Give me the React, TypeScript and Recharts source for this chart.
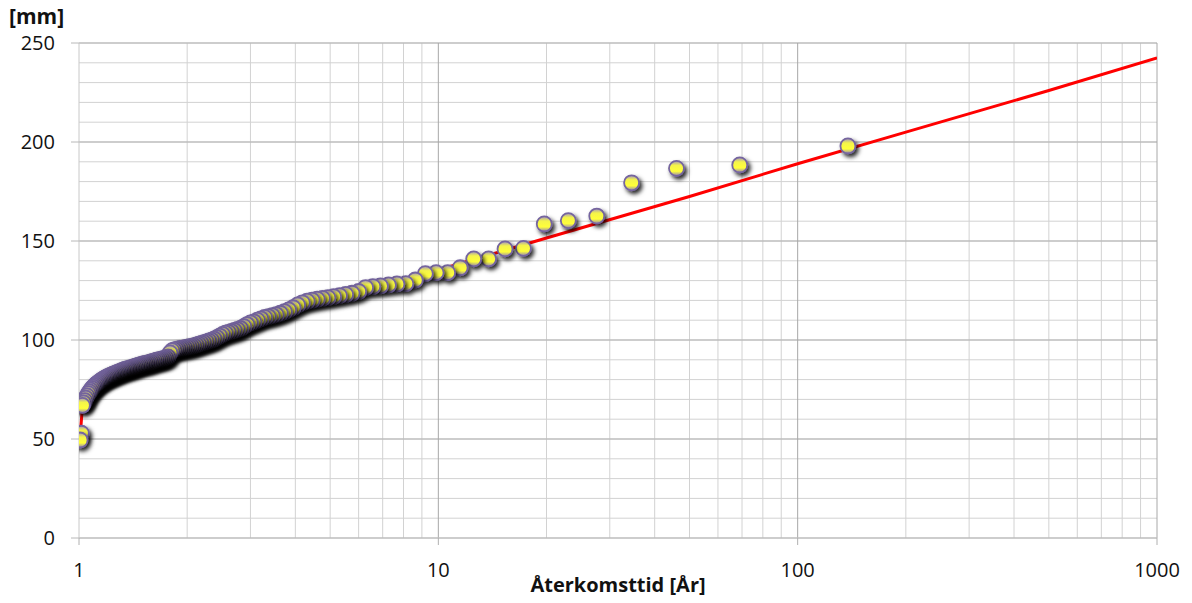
import React from 'react';
import { ScatterChart, Scatter, XAxis, YAxis, ReferenceLine } from 'recharts';

// Return periods (years) of the observed annual maxima, largest first
const returnPeriods = [
  138, 69, 46, 34.5, 27.6, 23, 19.714, 17.25, 15.333, 13.8,
  12.545, 11.5, 10.615, 9.857, 9.2, 8.625, 8.118, 7.667, 7.263, 6.9,
  6.571, 6.273, 6, 5.75, 5.52, 5.308, 5.111, 4.929, 4.759, 4.6,
  4.452, 4.313, 4.182, 4.059, 3.943, 3.833, 3.73, 3.632, 3.538, 3.45,
  3.366, 3.286, 3.209, 3.136, 3.067, 3, 2.936, 2.875, 2.816, 2.76,
  2.706, 2.654, 2.604, 2.556, 2.509, 2.464, 2.421, 2.379, 2.339, 2.3,
  2.262, 2.226, 2.19, 2.156, 2.123, 2.091, 2.06, 2.029, 2, 1.971,
  1.944, 1.917, 1.89, 1.865, 1.84, 1.816, 1.792, 1.769, 1.747, 1.725,
  1.704, 1.683, 1.663, 1.643, 1.624, 1.605, 1.586, 1.568, 1.551, 1.533,
  1.516, 1.5, 1.484, 1.468, 1.453, 1.4375, 1.423, 1.408, 1.394, 1.38,
  1.366, 1.353, 1.34, 1.327, 1.314, 1.302, 1.29, 1.278, 1.266, 1.255,
  1.243, 1.232, 1.221, 1.211, 1.2, 1.19, 1.179, 1.169, 1.16, 1.15,
  1.14, 1.131, 1.122, 1.113, 1.104, 1.095, 1.087, 1.078, 1.07, 1.062,
  1.053, 1.045, 1.038, 1.03, 1.022, 1.015, 1.007,
];

// Observed values [mm]
const observedMm = [
  198, 188.4, 186.7, 179.4, 162.6, 160.3, 158.6, 146.3, 146, 141,
  141, 136.5, 134, 134, 133.5, 130.3, 128.5, 128.3, 127.8, 127.3,
  127, 126.5, 124.5, 123.6, 123, 122.4, 121.9, 121.4, 121, 120.6,
  120.1, 119.6, 118.8, 117.7, 116.3, 115.2, 114.3, 113.5, 112.8, 112.3,
  111.8, 111.4, 110.7, 110, 109.2, 108.6, 107.8, 106.8, 105.8, 105.3,
  104.8, 104.3, 103.9, 103.5, 102.8, 102, 101.2, 100.5, 99.9, 99.5,
  99.1, 98.7, 98.3, 97.9, 97.5, 97.1, 96.8, 96.6, 96.4, 96.1,
  95.9, 95.7, 95.5, 95.3, 95, 94.6, 93.5, 91.5, 91, 90.7,
  90.4, 90.2, 90, 89.8, 89.5, 89.2, 88.9, 88.6, 88.4, 88.2,
  88, 87.8, 87.6, 87.3, 87, 86.8, 86.5, 86.2, 86, 85.7,
  85.5, 85.3, 85.1, 84.8, 84.5, 84.2, 83.9, 83.6, 83.3, 83,
  82.7, 82.4, 82.1, 81.8, 81.5, 81.1, 80.7, 80.3, 79.9, 79.5,
  79, 78.5, 78, 77.4, 76.8, 76.2, 75.5, 74.7, 73.8, 72.9,
  71.8, 70.6, 69.4, 68.2, 67, 52.9, 49.5,
];

// Fitted curve
const fitReturnPeriods = [1.007, 1.022, 1.1, 1.5, 2, 3, 5, 8, 10, 20, 50, 100, 200, 500, 1000];
const fitMm = [51, 66, 76, 87, 96, 108, 120, 130.5, 135.4, 151.5, 172.5, 189, 205, 226, 242.5];

// Axis ticks and grid lines
const xTicks = [1, 10, 100, 1000];
const yTicks = [0, 50, 100, 150, 200, 250];
const xMinorGrid = [2, 3, 4, 5, 6, 7, 8, 9, 20, 30, 40, 50, 60, 70, 80, 90, 200, 300, 400, 500, 600, 700, 800, 900];
const xMajorGrid = [10, 100, 1000];
const yMinorGrid = [10, 20, 30, 40, 60, 70, 80, 90, 110, 120, 130, 140, 160, 170, 180, 190, 210, 220, 230, 240];
const yMajorGrid = [50, 100, 150, 200, 250];

const observed = returnPeriods.map((t, i) => ({ t, v: observedMm[i] }));
const fit = fitReturnPeriods.map((t, i) => ({ t, v: fitMm[i] }));

const FONT = "'Open Sans', 'Noto Sans', sans-serif";

const Dot = (props: any) => {
  const { cx, cy } = props;
  if (cx == null || cy == null) return <g />;
  return (
    <g filter="url(#dotShadow)">
      <circle cx={cx} cy={cy} r={7.5} fill="url(#dotFill)" stroke="#75659f" strokeWidth={1.8} />
    </g>
  );
};

const NoDot = () => <g />;

export default function App() {
  return (
    <div style={{ position: 'absolute', left: 0, top: 0, width: 1192, height: 603, background: '#fff' }}>
      <svg width={0} height={0} style={{ position: 'absolute' }}>
        <defs>
          <linearGradient id="dotFill" x1="0" y1="0" x2="0" y2="1">
            <stop offset="0%" stopColor="#a193c4" />
            <stop offset="30%" stopColor="#f4f44a" />
            <stop offset="70%" stopColor="#ffff3a" />
            <stop offset="100%" stopColor="#8f80b8" />
          </linearGradient>
          <filter id="dotShadow" x="-60%" y="-60%" width="240%" height="240%">
            <feDropShadow dx="2.5" dy="3" stdDeviation="2" floodColor="#000" floodOpacity="0.85" />
          </filter>
        </defs>
      </svg>
      <ScatterChart width={1192} height={603} margin={{ top: 43, right: 35, left: 0, bottom: 0 }}>
        {xMinorGrid.map((x) => (
          <ReferenceLine key={'xm' + x} x={x} stroke="#d2d2d2" strokeWidth={1} />
        ))}
        {yMinorGrid.map((y) => (
          <ReferenceLine key={'ym' + y} y={y} stroke="#d2d2d2" strokeWidth={1} />
        ))}
        {yMajorGrid.map((y) => (
          <ReferenceLine key={'yM' + y} y={y} stroke="#bdbdbd" strokeWidth={1.3} />
        ))}
        {xMajorGrid.map((x) => (
          <ReferenceLine key={'xM' + x} x={x} stroke="#a8a8a8" strokeWidth={1} />
        ))}
        <XAxis
          dataKey="t"
          type="number"
          scale="log"
          domain={[1, 1000]}
          allowDataOverflow
          ticks={xTicks}
          height={65}
          tickSize={7}
          tickMargin={18}
          stroke="#b0b0b0"
          axisLine={{ stroke: '#bdbdbd', strokeWidth: 1.3 }}
          tick={{ fill: '#111', fontSize: 20, fontFamily: FONT }}
        />
        <YAxis
          dataKey="v"
          type="number"
          domain={[0, 250]}
          ticks={yTicks}
          width={79}
          tickSize={8}
          tickMargin={16}
          stroke="#b8b8b8"
          axisLine={{ stroke: '#c8c8c8' }}
          tick={{ fill: '#111', fontSize: 20, fontFamily: FONT }}
        />
        <Scatter
          data={fit}
          line={{ stroke: '#ff0000', strokeWidth: 3 }}
          lineJointType="linear"
          shape={NoDot}
          isAnimationActive={false}
        />
        <Scatter data={observed} shape={Dot} isAnimationActive={false} />
      </ScatterChart>
      <div
        style={{
          position: 'absolute',
          left: 9,
          top: 2,
          fontFamily: FONT,
          fontWeight: 700,
          fontSize: 21,
          color: '#111',
          lineHeight: '29px',
        }}
      >
        [mm]
      </div>
      <div
        style={{
          position: 'absolute',
          left: 0,
          width: 1236,
          top: 571,
          textAlign: 'center',
          fontFamily: FONT,
          fontWeight: 700,
          fontSize: 20,
          color: '#111',
          lineHeight: '27px',
        }}
      >
        Återkomsttid [År]
      </div>
    </div>
  );
}
